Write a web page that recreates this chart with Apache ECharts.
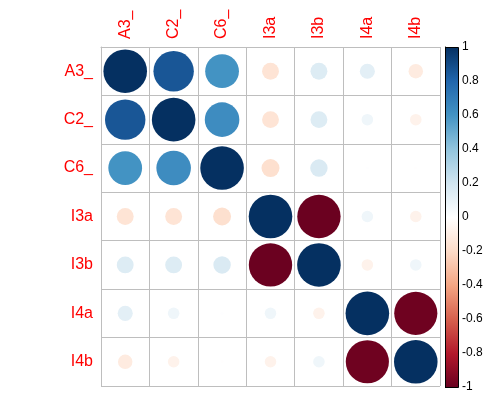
<!DOCTYPE html>
<html>
<head>
<meta charset="utf-8">
<script src="https://cdn.jsdelivr.net/npm/echarts@6/dist/echarts.min.js"></script>
<style>html,body{margin:0;padding:0;background:#fff;}#c{width:491px;height:412px;}</style>
</head>
<body>
<div id="c"></div>
<script>
var labels = ['A3_', 'C2_', 'C6_', 'I3a', 'I3b', 'I4a', 'I4b'];
var rowA3 = [1, 0.86, 0.60, -0.15, 0.15, 0.12, -0.11];
var rowC2 = [0.86, 1, 0.63, -0.15, 0.15, 0.07, -0.07];
var rowC6 = [0.60, 0.63, 1, -0.17, 0.16, 0.005, -0.005];
var rowI3a = [-0.15, -0.15, -0.17, 1, -0.99, 0.07, -0.07];
var rowI3b = [0.15, 0.15, 0.16, -0.99, 1, -0.07, 0.07];
var rowI4a = [0.12, 0.07, 0.005, 0.07, -0.07, 1, -0.98];
var rowI4b = [-0.11, -0.07, -0.005, -0.07, 0.07, -0.98, 1];
var colorbarTicks = [-1, -0.8, -0.6, -0.4, -0.2, 0, 0.2, 0.4, 0.6, 0.8, 1];
var rdbu = ['#67001F', '#B2182B', '#D6604D', '#F4A582', '#FDDBC7', '#FFFFFF', '#D1E5F0', '#92C5DE', '#4393C3', '#2166AC', '#053061'];

var rows = [rowA3, rowC2, rowC6, rowI3a, rowI3b, rowI4a, rowI4b];
var data = [];
rows.forEach(function (r, i) {
  r.forEach(function (v, j) { data.push([j, i, v]); });
});

var CELL = 339 / 7;
var chart = echarts.init(document.getElementById('c'), null, {renderer: 'canvas'});
var grayLine = {show: true, lineStyle: {color: '#BEBEBE', width: 1}};
chart.setOption({
  backgroundColor: '#ffffff',
  animation: false,
  grid: [
    {left: 101, top: 47, width: 339, height: 339},
    {left: 445, top: 47, width: 13, height: 340}
  ],
  xAxis: [
    {type: 'category', data: labels, position: 'top', gridIndex: 0,
     axisLine: grayLine, axisTick: {show: false}, splitLine: {show: true, interval: 0, lineStyle: {color: '#BEBEBE'}},
     axisLabel: {interval: 0, rotate: -90, margin: 8, color: '#FF0000', fontSize: 16, fontFamily: 'Liberation Sans'}},
    {type: 'value', gridIndex: 1, min: 0, max: 1, show: false}
  ],
  yAxis: [
    {type: 'category', data: labels, inverse: true, gridIndex: 0,
     axisLine: grayLine, axisTick: {show: false}, splitLine: {show: true, interval: 0, lineStyle: {color: '#BEBEBE'}},
     axisLabel: {interval: 0, margin: 8, color: '#FF0000', fontSize: 16, fontFamily: 'Liberation Sans'}},
    {type: 'value', gridIndex: 1, min: -1, max: 1, interval: 0.2, position: 'right',
     axisLine: {show: true, lineStyle: {color: '#000'}},
     axisTick: {show: true, length: 2, inside: false, lineStyle: {color: '#000'}},
     splitLine: {show: false},
     axisLabel: {margin: 4, color: '#000', fontSize: 12, fontFamily: 'Liberation Sans',
       formatter: function (v) { var r = Math.round(v * 10) / 10; return String(r); }}}
  ],
  visualMap: {
    show: false, type: 'continuous', min: -1, max: 1, dimension: 2, seriesIndex: 0,
    inRange: {color: rdbu}
  },
  series: [
    {type: 'scatter', xAxisIndex: 0, yAxisIndex: 0, data: data, symbol: 'circle',
     symbolSize: function (d) { return 0.9 * CELL * Math.sqrt(Math.abs(d[2])); },
     itemStyle: {opacity: 1, borderWidth: 0}, silent: true},
    {type: 'custom', xAxisIndex: 1, yAxisIndex: 1, data: [[0, 1]], silent: true,
     renderItem: function (params, api) {
       var p1 = api.coord([0, colorbarTicks[colorbarTicks.length - 1]]);
       var p2 = api.coord([1, colorbarTicks[0]]);
       var stops = rdbu.slice().reverse().map(function (c, k) { return {offset: k / (rdbu.length - 1), color: c}; });
       return {type: 'rect',
         shape: {x: Math.round(p1[0]) + 0.5, y: Math.round(p1[1]) + 0.5, width: Math.round(p2[0] - p1[0]), height: Math.round(p2[1] - p1[1])},
         style: {fill: new echarts.graphic.LinearGradient(0, 0, 0, 1, stops), stroke: '#000', lineWidth: 1}};
     }}
  ]
});
</script>
</body>
</html>
